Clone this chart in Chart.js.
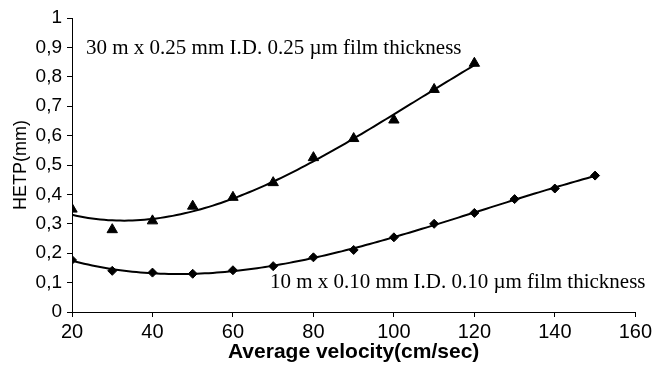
<!DOCTYPE html>
<html>
<head>
<meta charset="utf-8">
<script src="https://cdn.jsdelivr.net/npm/chart.js@4/dist/chart.umd.min.js"></script>
<style>
    html, body { margin: 0; padding: 0; background: #fff; }
    #wrap { width: 655px; height: 371px; }
</style>
</head>
<body>
<div id="wrap"><canvas id="grafico"></canvas></div>
<script>
// datos
var velocidades30 = [20, 30, 40, 50, 60, 70, 80, 90, 100, 110, 120];
var hetp30 = [0.35, 0.28, 0.31, 0.36, 0.39, 0.44, 0.525, 0.59, 0.653, 0.757, 0.846];

var velocidades10 = [20, 30, 40, 50, 60, 70, 80, 90, 100, 110, 120, 130, 140, 150];
var hetp10 = [0.177, 0.14, 0.134, 0.13, 0.142, 0.156, 0.186, 0.211, 0.254, 0.30, 0.337, 0.384, 0.42, 0.464];

var xTicks = [20, 40, 60, 80, 100, 120, 140, 160];
var yTicks = [0, 0.1, 0.2, 0.3, 0.4, 0.5, 0.6, 0.7, 0.8, 0.9, 1];

var etiqueta30 = '30 m x 0.25 mm I.D. 0.25 \u00b5m film thickness';
var etiqueta10 = '10 m x 0.10 mm I.D. 0.10 \u00b5m film thickness';

document.addEventListener('DOMContentLoaded', f_principal);

function f_principal() {
    graficoHetp();
}

// ajuste polinomico por minimos cuadrados (linea de tendencia)
function ajustePolinomio(xs, ys, orden) {
    var n = orden + 1;
    var A = [];
    for (var i = 0; i < n; i++) {
        A.push(new Array(n + 1).fill(0));
    }
    for (var k = 0; k < xs.length; k++) {
        for (var i = 0; i < n; i++) {
            for (var j = 0; j < n; j++) {
                A[i][j] += Math.pow(xs[k], i + j);
            }
            A[i][n] += ys[k] * Math.pow(xs[k], i);
        }
    }
    for (var c = 0; c < n; c++) {
        var p = c;
        for (var r = c + 1; r < n; r++) {
            if (Math.abs(A[r][c]) > Math.abs(A[p][c])) p = r;
        }
        var tmp = A[c]; A[c] = A[p]; A[p] = tmp;
        for (var r = 0; r < n; r++) {
            if (r == c) continue;
            var f = A[r][c] / A[c][c];
            for (var j = c; j <= n; j++) A[r][j] -= f * A[c][j];
        }
    }
    var coef = [];
    for (var i = 0; i < n; i++) coef.push(A[i][n] / A[i][i]);
    return coef;
}

function curvaTendencia(xs, ys, orden) {
    var coef = ajustePolinomio(xs, ys, orden);
    var puntos = [];
    var x0 = xs[0], x1 = xs[xs.length - 1];
    for (var x = x0; x <= x1 + 1e-9; x += 1) {
        var y = 0;
        for (var i = 0; i < coef.length; i++) y += coef[i] * Math.pow(x, i);
        puntos.push({ x: x, y: y });
    }
    return puntos;
}

function aPuntos(xs, ys) {
    return xs.map(function (x, i) { return { x: x, y: ys[i] }; });
}

// textos dentro del area del grafico
var pluginTextos = {
    id: 'textos',
    afterDatasetsDraw: function (chart) {
        var ctx = chart.ctx;
        ctx.save();
        ctx.fillStyle = '#000';
        ctx.font = '21px "Liberation Serif", "Times New Roman", serif';
        ctx.textAlign = 'left';
        ctx.textBaseline = 'alphabetic';
        ctx.fillText(etiqueta30, 86, 54);
        ctx.fillText(etiqueta10, 270, 288);
        ctx.restore();
    }
};

function graficoHetp() {
    var data = {
        datasets: [
            {
                type: 'line',
                data: curvaTendencia(velocidades30, hetp30, 3),
                borderColor: '#000',
                borderWidth: 2,
                pointRadius: 0,
                fill: false
            },
            {
                type: 'line',
                data: curvaTendencia(velocidades10, hetp10, 3),
                borderColor: '#000',
                borderWidth: 2,
                pointRadius: 0,
                fill: false
            },
            {
                type: 'scatter',
                data: aPuntos(velocidades30, hetp30),
                pointStyle: 'triangle',
                pointRadius: 6,
                backgroundColor: '#000',
                borderColor: '#000',
                borderWidth: 1
            },
            {
                type: 'scatter',
                data: aPuntos(velocidades10, hetp10),
                pointStyle: 'rectRot',
                pointRadius: 4.5,
                backgroundColor: '#000',
                borderColor: '#000',
                borderWidth: 1
            }
        ]
    };

    var options = {
        responsive: true,
        maintainAspectRatio: false,
        animation: false,
        layout: {
            padding: { top: 18, right: 18, left: 0, bottom: 0 }
        },
        plugins: {
            legend: { display: false },
            tooltip: { enabled: false }
        },
        scales: {
            x: {
                type: 'linear',
                min: 20,
                max: 160,
                afterBuildTicks: function (scale) {
                    scale.ticks = xTicks.map(function (v) { return { value: v }; });
                },
                afterFit: function (scale) {
                    scale.height = 59;
                },
                border: { display: true, color: '#000', width: 1 },
                grid: { drawOnChartArea: false, color: '#000', tickLength: 5 },
                ticks: {
                    color: '#000',
                    padding: 3,
                    maxRotation: 0,
                    font: { family: '"Liberation Sans", Arial, sans-serif', size: 20 }
                },
                title: {
                    display: true,
                    text: 'Average velocity(cm/sec)',
                    color: '#000',
                    padding: { top: 0, bottom: 6 },
                    font: { family: '"Liberation Sans", Arial, sans-serif', size: 21, weight: 'bold' }
                }
            },
            y: {
                type: 'linear',
                min: 0,
                max: 1,
                afterBuildTicks: function (scale) {
                    scale.ticks = yTicks.map(function (v) { return { value: v }; });
                },
                afterFit: function (scale) {
                    scale.width = 72;
                },
                border: { display: true, color: '#000', width: 1 },
                grid: { drawOnChartArea: false, color: '#000', tickLength: 5 },
                ticks: {
                    color: '#000',
                    padding: 5,
                    font: { family: '"Liberation Sans", Arial, sans-serif', size: 19 },
                    callback: function (v) {
                        return String(Math.round(v * 10) / 10).replace('.', ',');
                    }
                },
                title: {
                    display: true,
                    text: 'HETP(mm)',
                    color: '#000',
                    padding: { top: 10, bottom: 0 },
                    font: { family: '"Liberation Sans", Arial, sans-serif', size: 18 }
                }
            }
        }
    };

    var ctx = document.getElementById('grafico').getContext('2d');
    var grafico = new Chart(ctx, {
        data: data,
        options: options,
        plugins: [pluginTextos]
    });
}
</script>
</body>
</html>
